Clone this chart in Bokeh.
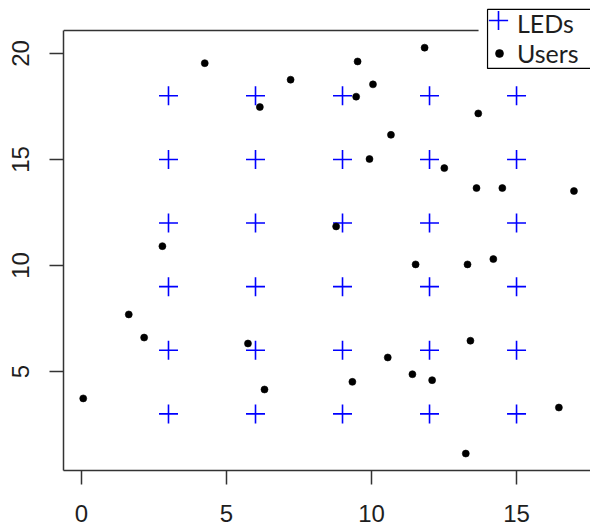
from bokeh.plotting import figure
from bokeh.models import FixedTicker, Legend, LegendItem, Range1d, BoxAnnotation
from bokeh.embed import file_html
from bokeh.resources import INLINE

# LED grid positions
led_x = [3, 6, 9, 12, 15, 3, 6, 9, 12, 15, 3, 6, 9, 12, 15,
         3, 6, 9, 12, 15, 3, 6, 9, 12, 15, 3, 6, 9, 12, 15]
led_y = [3, 3, 3, 3, 3, 6, 6, 6, 6, 6, 9, 9, 9, 9, 9,
         12, 12, 12, 12, 12, 15, 15, 15, 15, 15, 18, 18, 18, 18, 18]

# User positions
user_x = [4.25, 7.21, 6.15, 2.79, 9.52, 11.83, 10.05, 9.47, 13.68, 10.67,
          9.93, 12.51, 13.62, 14.51, 16.98, 8.78, 14.2, 11.52, 13.31, 13.41,
          10.56, 11.41, 12.09, 9.34, 16.46, 13.25, 1.63, 2.16, 5.74, 6.31, 0.06]
user_y = [19.54, 18.76, 17.47, 10.91, 19.62, 20.27, 18.54, 17.96, 17.17, 16.16,
          15.02, 14.59, 13.65, 13.65, 13.51, 11.84, 10.3, 10.05, 10.05, 6.45,
          5.66, 4.87, 4.59, 4.51, 3.30, 1.13, 7.69, 6.6, 6.32, 4.15, 3.73]

legend_labels = ["LEDs", "Users"]

x_ticks = [0, 5, 10, 15]
y_ticks = [5, 10, 15, 20]
x_lim = (-0.62, 17.55)
y_lim = (0.33, 21.08)      # plot box
y_view_top = 22.495        # room above the box for the legend
top_line_end = 13.69
legend_frame = dict(left=14.0, right=18.5, bottom=19.29, top=22.075)

AX = "#333333"
TXT = "#1e1e1e"

p = figure(width=590, height=527, output_backend="svg", toolbar_location=None,
           x_range=Range1d(x_lim[0], x_lim[1]), y_range=Range1d(y_lim[0], y_view_top),
           min_border_left=63, min_border_right=0, min_border_top=0, min_border_bottom=57,
           background_fill_color="white", border_fill_color="white")
p.outline_line_color = None
p.grid.grid_line_color = None

for ax, ticks in ((p.xaxis, x_ticks), (p.yaxis, y_ticks)):
    ax.ticker = FixedTicker(ticks=ticks)
    ax.major_tick_out = 14
    ax.major_tick_in = 0
    ax.minor_tick_line_color = None
    ax.axis_line_color = AX
    ax.axis_line_width = 1.5
    ax.major_tick_line_color = AX
    ax.major_tick_line_width = 1.5
    ax.major_label_text_font = "Liberation Sans"
    ax.major_label_text_font_size = "24px"
    ax.major_label_text_color = TXT

p.yaxis.bounds = y_lim
p.xaxis.major_label_standoff = 20
p.yaxis.major_label_standoff = 20
p.yaxis.major_label_orientation = "vertical"

# top edge of the plot box
p.add_layout(BoxAnnotation(left=x_lim[0], right=top_line_end, bottom=y_lim[1], top=y_lim[1],
                           fill_alpha=0, line_color=AX, line_alpha=1, line_width=1.5))

leds = p.scatter(led_x, led_y, marker="cross", size=19, line_color="#0000ff", line_width=1.6)
users = p.scatter(user_x, user_y, marker="circle", size=7, fill_color="black",
                  line_color="black", line_width=0.6)
dummy = p.scatter(x=[], y=[], marker="cross", line_alpha=0, fill_alpha=0)

# legend frame
p.add_layout(BoxAnnotation(**legend_frame, fill_alpha=0, line_color="black",
                           line_alpha=1, line_width=1.2))

common = dict(orientation="vertical", padding=0, spacing=0, glyph_width=20, glyph_height=40,
              label_height=40, label_standoff=8, label_width=60, label_text_font="Lato",
              label_text_font_size="25px", label_text_color=TXT, border_line_alpha=0,
              background_fill_alpha=0, margin=0)
legend_leds = Legend(items=[LegendItem(label=legend_labels[0], renderers=[dummy])],
                     location=(426, 427), **common)
legend_users = Legend(items=[LegendItem(label=legend_labels[1], renderers=[users])],
                      location=(426, 397), **common)
p.add_layout(legend_leds)
p.add_layout(legend_users)

legend_plus = Legend(items=[LegendItem(label=" ", renderers=[leds])],
                     location=(411, 426), padding=0, spacing=0, glyph_width=48, glyph_height=48,
                     label_width=0, label_height=0, label_standoff=0, label_text_font_size="1px",
                     border_line_alpha=0, background_fill_alpha=0, margin=0)
p.add_layout(legend_plus)

open("out.html", "w").write(file_html(p, INLINE))
